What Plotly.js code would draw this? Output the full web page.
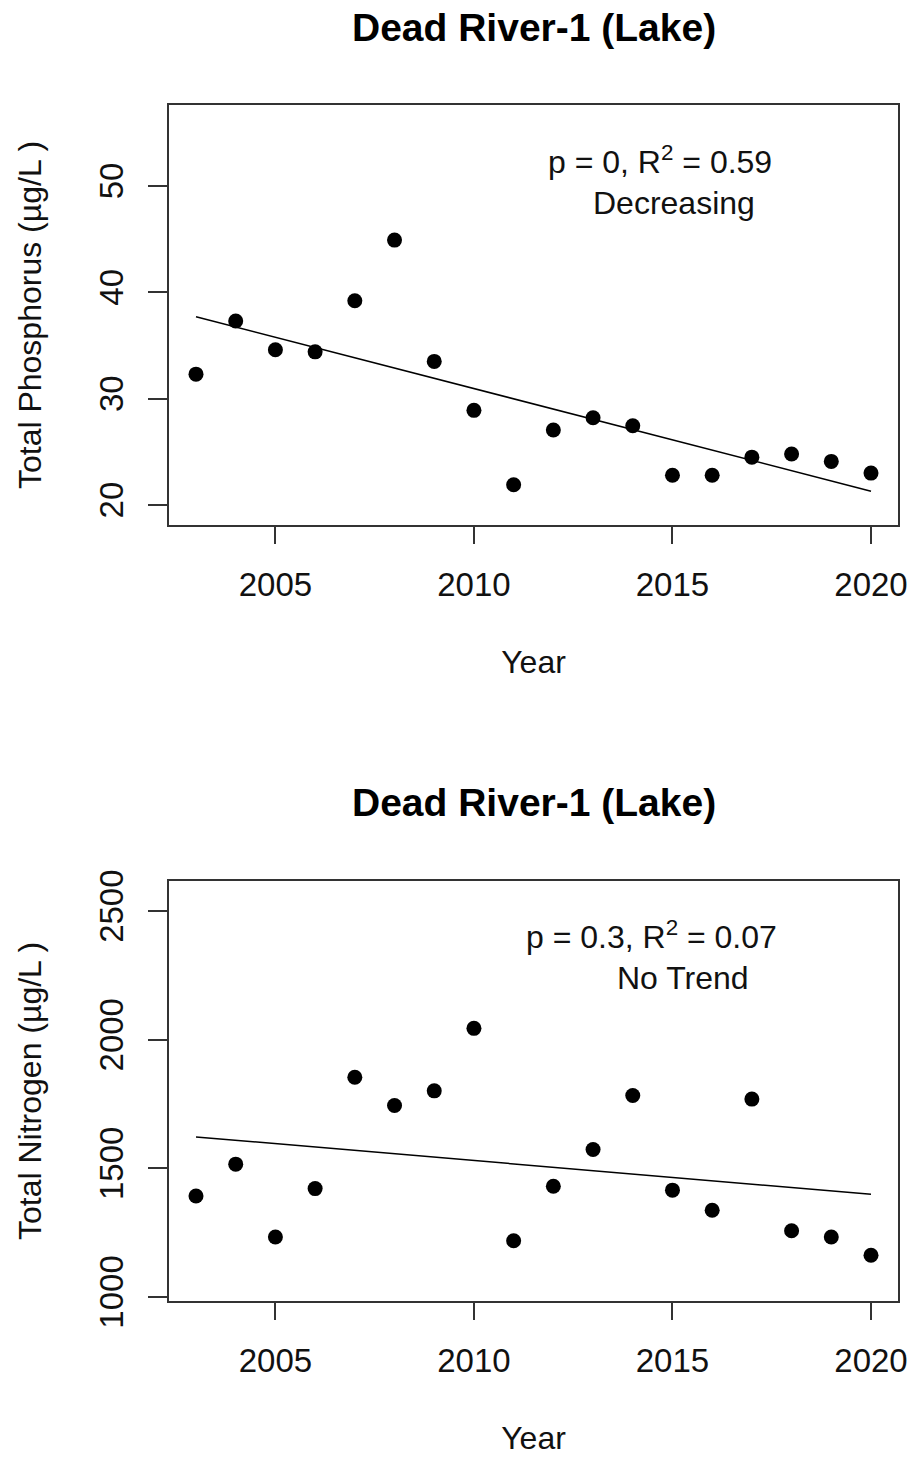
<!DOCTYPE html>
<html>
<head>
<meta charset="utf-8">
<script src="https://cdn.plot.ly/plotly-3.0.1.min.js"></script>
<style>html,body{margin:0;padding:0;background:#fff;}#chart{width:911px;height:1457px;}</style>
</head>
<body>
<div id="chart"></div>
<script>
// Data
const years = [2003, 2004, 2005, 2006, 2007, 2008, 2009, 2010, 2011, 2012, 2013, 2014, 2015, 2016, 2017, 2018, 2019, 2020];
const phosphorus = [32.3, 37.3, 34.6, 34.4, 39.2, 44.9, 33.5, 28.9, 21.9, 27.05, 28.2, 27.45, 22.8, 22.8, 24.5, 24.8, 24.1, 23.0];
const nitrogen = [1392, 1516, 1233, 1421, 1854, 1744, 1801, 2044, 1218, 1430, 1573, 1783, 1415, 1337, 1769, 1257, 1233, 1162];
const trendYears = [2003, 2020];
const trendPhosphorus = [37.7, 21.3];
const trendNitrogen = [1622, 1399];
const xTicks = [2005, 2010, 2015, 2020];
const pTicks = [20, 30, 40, 50];
const nTicks = [1000, 1500, 2000, 2500];
const titleText = "Dead River-1 (Lake)";
const statsP = ["p = 0, R<sup>2</sup> = 0.59", "Decreasing"];
const statsN = ["p = 0.3, R<sup>2</sup> = 0.07", "No Trend"];

const font = "Liberation Sans, Arial, sans-serif";
const markerStyle = {color: "#000", size: 15};
const lineStyle = {color: "#000", width: 1.5};

const traces = [
  {x: years, y: phosphorus, type: "scatter", mode: "markers", marker: markerStyle, xaxis: "x", yaxis: "y", hoverinfo: "x+y"},
  {x: trendYears, y: trendPhosphorus, type: "scatter", mode: "lines", line: lineStyle, xaxis: "x", yaxis: "y"},
  {x: years, y: nitrogen, type: "scatter", mode: "markers", marker: markerStyle, xaxis: "x2", yaxis: "y2", hoverinfo: "x+y"},
  {x: trendYears, y: trendNitrogen, type: "scatter", mode: "lines", line: lineStyle, xaxis: "x2", yaxis: "y2"}
];

function xAxis(anchor) {
  return {
    anchor: anchor, domain: [0, 1], range: [2002.32, 2020.68],
    tickmode: "array", tickvals: xTicks, ticktext: xTicks.map(String),
    ticks: "outside", ticklen: 17, tickwidth: 2, tickcolor: "#333",
    showline: true, linecolor: "#333", linewidth: 2, mirror: true,
    showgrid: false, zeroline: false,
    tickfont: {family: font, size: 33, color: "#111"},
    ticklabelstandoff: 12,
    title: {text: "Year", font: {family: font, size: 32, color: "#111"}, standoff: 49}
  };
}
function yAxis(anchor, domain, range, ticks, label) {
  return {
    anchor: anchor, domain: domain, range: range,
    tickmode: "array", tickvals: ticks, ticktext: ticks.map(String),
    ticks: "outside", ticklen: 19, tickwidth: 2, tickcolor: "#333",
    tickangle: -90,
    showline: true, linecolor: "#333", linewidth: 2, mirror: true,
    showgrid: false, zeroline: false,
    tickfont: {family: font, size: 33, color: "#111"},
    ticklabelstandoff: 12,
    title: {text: label, font: {family: font, size: 32, color: "#111"}, standoff: 42}
  };
}

const layout = {
  width: 911, height: 1457,
  margin: {l: 169, r: 13, t: 105, b: 156},
  paper_bgcolor: "#fff", plot_bgcolor: "#fff",
  showlegend: false,
  xaxis: xAxis("y"),
  yaxis: yAxis("x", [0.6488, 1], [18.12, 57.6], pTicks, "Total Phosphorus (µg/L )"),
  xaxis2: xAxis("y2"),
  yaxis2: yAxis("x2", [0, 0.3514], [984, 2618], nTicks, "Total Nitrogen (µg/L )"),
  annotations: [
    {text: "<b>" + titleText + "</b>", xref: "paper", yref: "paper", x: 0.5, y: 1.0652, xanchor: "center", yanchor: "middle", showarrow: false, font: {family: font, size: 39, color: "#000"}},
    {text: "<b>" + titleText + "</b>", xref: "paper", yref: "paper", x: 0.5, y: 0.4164, xanchor: "center", yanchor: "middle", showarrow: false, font: {family: font, size: 39, color: "#000"}},
    {text: statsP[0], xref: "x", yref: "y", x: 2014.68, y: 52.4, xanchor: "center", yanchor: "middle", showarrow: false, font: {family: font, size: 32, color: "#111"}},
    {text: statsP[1], xref: "x", yref: "y", x: 2015.03, y: 48.4, xanchor: "center", yanchor: "middle", showarrow: false, font: {family: font, size: 32, color: "#111"}},
    {text: statsN[0], xref: "x2", yref: "y2", x: 2014.48, y: 2406, xanchor: "center", yanchor: "middle", showarrow: false, font: {family: font, size: 32, color: "#111"}},
    {text: statsN[1], xref: "x2", yref: "y2", x: 2015.26, y: 2239, xanchor: "center", yanchor: "middle", showarrow: false, font: {family: font, size: 32, color: "#111"}}
  ]
};

Plotly.newPlot("chart", traces, layout, {displayModeBar: false, staticPlot: true});
</script>
</body>
</html>
